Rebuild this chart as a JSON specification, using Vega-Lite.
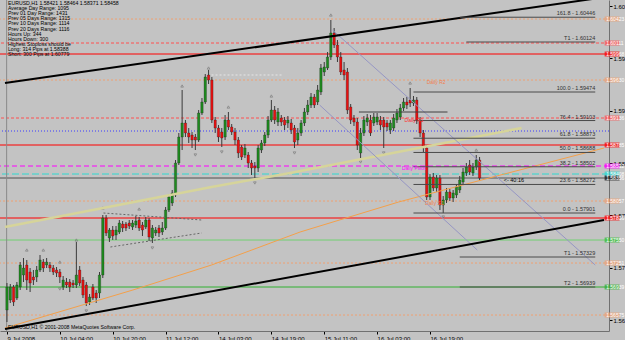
{
  "$schema": "https://vega.github.io/schema/vega-lite/v6.json",
  "width": 609,
  "height": 331,
  "autosize": "none",
  "padding": {"left": 0, "top": 0, "right": 16, "bottom": 9},
  "background": "#c3c3c3",
  "config": {
    "view": {"stroke": null, "fill": "#c3c3c3"},
    "font": "Liberation Sans",
    "axis": {"grid": false, "title": null, "labelFont": "Liberation Sans"}
  },
  "resolve": {"scale": {"color": "independent", "strokeDash": "independent", "strokeWidth": "independent", "shape": "independent"}},
  "datasets": {
    "candles": [
      {"i":0,"o":1.5664,"h":1.56991,"l":1.56484,"c":1.56939},
      {"i":1,"o":1.5677,"h":1.56978,"l":1.56731,"c":1.56939},
      {"i":2,"o":1.56939,"h":1.56965,"l":1.56692,"c":1.56744},
      {"i":3,"o":1.56796,"h":1.57004,"l":1.5677,"c":1.56965},
      {"i":4,"o":1.56939,"h":1.57264,"l":1.569,"c":1.57225},
      {"i":5,"o":1.57095,"h":1.57316,"l":1.57004,"c":1.57186},
      {"i":6,"o":1.57225,"h":1.5729,"l":1.569,"c":1.5703},
      {"i":7,"o":1.57134,"h":1.57186,"l":1.56874,"c":1.56991},
      {"i":8,"o":1.57069,"h":1.5716,"l":1.56965,"c":1.5703},
      {"i":9,"o":1.57069,"h":1.57212,"l":1.57004,"c":1.5716},
      {"i":10,"o":1.5716,"h":1.57355,"l":1.57134,"c":1.5729},
      {"i":11,"o":1.57264,"h":1.57303,"l":1.57134,"c":1.57186},
      {"i":12,"o":1.57225,"h":1.57316,"l":1.57186,"c":1.57264},
      {"i":13,"o":1.57225,"h":1.57264,"l":1.57134,"c":1.57186},
      {"i":14,"o":1.57186,"h":1.57225,"l":1.57095,"c":1.57134},
      {"i":15,"o":1.5716,"h":1.57199,"l":1.57069,"c":1.57121},
      {"i":16,"o":1.57134,"h":1.57173,"l":1.56991,"c":1.57069},
      {"i":17,"o":1.56939,"h":1.57082,"l":1.569,"c":1.5703},
      {"i":18,"o":1.57004,"h":1.57056,"l":1.56926,"c":1.56965},
      {"i":19,"o":1.57004,"h":1.57043,"l":1.56874,"c":1.56939},
      {"i":20,"o":1.56991,"h":1.5703,"l":1.56926,"c":1.56965},
      {"i":21,"o":1.56965,"h":1.57524,"l":1.56926,"c":1.57095},
      {"i":22,"o":1.5716,"h":1.57212,"l":1.56952,"c":1.56991},
      {"i":23,"o":1.5703,"h":1.57069,"l":1.56796,"c":1.56835},
      {"i":24,"o":1.56965,"h":1.57004,"l":1.56692,"c":1.56731},
      {"i":25,"o":1.56744,"h":1.56848,"l":1.56705,"c":1.56809},
      {"i":26,"o":1.56939,"h":1.56978,"l":1.5677,"c":1.56796},
      {"i":27,"o":1.56861,"h":1.569,"l":1.56731,"c":1.56796},
      {"i":28,"o":1.56861,"h":1.57134,"l":1.56796,"c":1.57095},
      {"i":29,"o":1.57095,"h":1.57875,"l":1.57056,"c":1.57836},
      {"i":30,"o":1.57836,"h":1.57875,"l":1.57602,"c":1.57641},
      {"i":31,"o":1.57576,"h":1.57706,"l":1.57524,"c":1.5768},
      {"i":32,"o":1.5768,"h":1.57732,"l":1.5755,"c":1.57602},
      {"i":33,"o":1.57615,"h":1.57732,"l":1.5755,"c":1.5768},
      {"i":34,"o":1.57654,"h":1.5781,"l":1.57628,"c":1.57771},
      {"i":35,"o":1.57758,"h":1.57797,"l":1.57654,"c":1.57706},
      {"i":36,"o":1.57758,"h":1.57784,"l":1.57667,"c":1.57706},
      {"i":37,"o":1.57771,"h":1.5781,"l":1.57693,"c":1.57732},
      {"i":38,"o":1.57719,"h":1.5781,"l":1.5768,"c":1.57771},
      {"i":39,"o":1.57745,"h":1.57862,"l":1.57706,"c":1.57797},
      {"i":40,"o":1.5781,"h":1.57849,"l":1.57667,"c":1.57706},
      {"i":41,"o":1.57745,"h":1.57784,"l":1.57602,"c":1.5768},
      {"i":42,"o":1.57719,"h":1.57849,"l":1.57693,"c":1.5781},
      {"i":43,"o":1.5781,"h":1.57836,"l":1.57537,"c":1.57589},
      {"i":44,"o":1.57576,"h":1.57745,"l":1.57511,"c":1.57706},
      {"i":45,"o":1.57641,"h":1.57719,"l":1.57602,"c":1.5768},
      {"i":46,"o":1.57706,"h":1.57745,"l":1.57589,"c":1.57641},
      {"i":47,"o":1.57654,"h":1.57784,"l":1.57615,"c":1.57706},
      {"i":48,"o":1.57706,"h":1.57979,"l":1.5768,"c":1.5794},
      {"i":49,"o":1.5794,"h":1.58148,"l":1.57914,"c":1.58109},
      {"i":50,"o":1.58031,"h":1.582,"l":1.57992,"c":1.58161},
      {"i":51,"o":1.58135,"h":1.5859,"l":1.58109,"c":1.58551},
      {"i":52,"o":1.58551,"h":1.58941,"l":1.58525,"c":1.58889},
      {"i":53,"o":1.58889,"h":1.595,"l":1.5872,"c":1.59071},
      {"i":54,"o":1.59071,"h":1.5911,"l":1.58889,"c":1.58941},
      {"i":55,"o":1.58941,"h":1.59006,"l":1.58811,"c":1.58889},
      {"i":56,"o":1.58915,"h":1.58954,"l":1.58746,"c":1.5885},
      {"i":57,"o":1.58889,"h":1.58928,"l":1.5872,"c":1.5885},
      {"i":58,"o":1.5885,"h":1.5924,"l":1.58824,"c":1.59201},
      {"i":59,"o":1.59201,"h":1.59396,"l":1.59175,"c":1.59344},
      {"i":60,"o":1.59344,"h":1.59708,"l":1.59318,"c":1.59669},
      {"i":61,"o":1.59695,"h":1.5976,"l":1.59578,"c":1.5963},
      {"i":62,"o":1.5963,"h":1.59669,"l":1.59071,"c":1.5911},
      {"i":63,"o":1.5911,"h":1.59149,"l":1.58941,"c":1.59006},
      {"i":64,"o":1.59006,"h":1.59045,"l":1.58824,"c":1.58889},
      {"i":65,"o":1.58954,"h":1.59006,"l":1.58759,"c":1.58876},
      {"i":66,"o":1.58889,"h":1.59175,"l":1.5885,"c":1.5911},
      {"i":67,"o":1.5911,"h":1.59214,"l":1.5898,"c":1.59019},
      {"i":68,"o":1.59019,"h":1.59058,"l":1.58915,"c":1.58954},
      {"i":69,"o":1.58954,"h":1.59006,"l":1.58785,"c":1.5885},
      {"i":70,"o":1.5885,"h":1.58889,"l":1.58616,"c":1.58681},
      {"i":71,"o":1.58759,"h":1.58785,"l":1.5859,"c":1.58629},
      {"i":72,"o":1.58655,"h":1.58798,"l":1.58616,"c":1.58746},
      {"i":73,"o":1.58655,"h":1.58694,"l":1.58486,"c":1.58551},
      {"i":74,"o":1.58551,"h":1.5859,"l":1.58395,"c":1.58486},
      {"i":75,"o":1.58512,"h":1.58564,"l":1.58356,"c":1.58486},
      {"i":76,"o":1.58486,"h":1.58785,"l":1.58434,"c":1.58746},
      {"i":77,"o":1.5872,"h":1.5885,"l":1.58681,"c":1.58811},
      {"i":78,"o":1.58811,"h":1.58954,"l":1.58772,"c":1.58915},
      {"i":79,"o":1.58915,"h":1.59162,"l":1.58876,"c":1.5911},
      {"i":80,"o":1.5911,"h":1.5937,"l":1.59084,"c":1.5924},
      {"i":81,"o":1.5924,"h":1.59292,"l":1.59058,"c":1.5911},
      {"i":82,"o":1.59084,"h":1.59266,"l":1.59032,"c":1.59214},
      {"i":83,"o":1.59136,"h":1.59175,"l":1.59032,"c":1.59084},
      {"i":84,"o":1.5911,"h":1.59149,"l":1.5898,"c":1.59045},
      {"i":85,"o":1.59071,"h":1.59162,"l":1.59006,"c":1.5911},
      {"i":86,"o":1.59071,"h":1.59123,"l":1.58928,"c":1.5898},
      {"i":87,"o":1.59006,"h":1.59045,"l":1.58746,"c":1.58824},
      {"i":88,"o":1.5885,"h":1.59006,"l":1.58785,"c":1.58941},
      {"i":89,"o":1.58941,"h":1.5911,"l":1.58902,"c":1.59071},
      {"i":90,"o":1.59071,"h":1.59266,"l":1.59032,"c":1.59214},
      {"i":91,"o":1.59214,"h":1.5937,"l":1.59175,"c":1.59305},
      {"i":92,"o":1.59305,"h":1.59461,"l":1.59266,"c":1.59409},
      {"i":93,"o":1.59409,"h":1.59448,"l":1.59266,"c":1.59305},
      {"i":94,"o":1.59344,"h":1.59565,"l":1.59305,"c":1.595},
      {"i":95,"o":1.59474,"h":1.59838,"l":1.59435,"c":1.59786},
      {"i":96,"o":1.59734,"h":1.59864,"l":1.59682,"c":1.59799},
      {"i":97,"o":1.59786,"h":1.59994,"l":1.5976,"c":1.59929},
      {"i":98,"o":1.59929,"h":1.6041,"l":1.5989,"c":1.60241},
      {"i":99,"o":1.60241,"h":1.60306,"l":1.60046,"c":1.60085},
      {"i":100,"o":1.60085,"h":1.6015,"l":1.59864,"c":1.59929},
      {"i":101,"o":1.59929,"h":1.59994,"l":1.59695,"c":1.59734},
      {"i":102,"o":1.5976,"h":1.59864,"l":1.5963,"c":1.59695},
      {"i":103,"o":1.59734,"h":1.59786,"l":1.59188,"c":1.5924},
      {"i":104,"o":1.59279,"h":1.59318,"l":1.59058,"c":1.5911},
      {"i":105,"o":1.59136,"h":1.59175,"l":1.59032,"c":1.59084},
      {"i":106,"o":1.59084,"h":1.59136,"l":1.5872,"c":1.58785},
      {"i":107,"o":1.58681,"h":1.59006,"l":1.58616,"c":1.58941},
      {"i":108,"o":1.58941,"h":1.59162,"l":1.58902,"c":1.5911},
      {"i":109,"o":1.59084,"h":1.59188,"l":1.59032,"c":1.59136},
      {"i":110,"o":1.5911,"h":1.59175,"l":1.58902,"c":1.58941},
      {"i":111,"o":1.59071,"h":1.59201,"l":1.59032,"c":1.59149},
      {"i":112,"o":1.59084,"h":1.59201,"l":1.59045,"c":1.59149},
      {"i":113,"o":1.5911,"h":1.59162,"l":1.5898,"c":1.59045},
      {"i":114,"o":1.5911,"h":1.59149,"l":1.58746,"c":1.59019},
      {"i":115,"o":1.59071,"h":1.5911,"l":1.58967,"c":1.59019},
      {"i":116,"o":1.5898,"h":1.5911,"l":1.58928,"c":1.59071},
      {"i":117,"o":1.59006,"h":1.59188,"l":1.58967,"c":1.59136},
      {"i":118,"o":1.5911,"h":1.59253,"l":1.59071,"c":1.59201},
      {"i":119,"o":1.59149,"h":1.59318,"l":1.5911,"c":1.59266},
      {"i":120,"o":1.59266,"h":1.59396,"l":1.59227,"c":1.59344},
      {"i":121,"o":1.59344,"h":1.59409,"l":1.59253,"c":1.59305},
      {"i":122,"o":1.5937,"h":1.59526,"l":1.59279,"c":1.59331},
      {"i":123,"o":1.59331,"h":1.59422,"l":1.59292,"c":1.5937},
      {"i":124,"o":1.5937,"h":1.59409,"l":1.59058,"c":1.5911},
      {"i":125,"o":1.5911,"h":1.59149,"l":1.58889,"c":1.58941},
      {"i":126,"o":1.58941,"h":1.5898,"l":1.58694,"c":1.58746},
      {"i":127,"o":1.58746,"h":1.58785,"l":1.5807,"c":1.58109},
      {"i":128,"o":1.58109,"h":1.58408,"l":1.5807,"c":1.58369},
      {"i":129,"o":1.58369,"h":1.58421,"l":1.58187,"c":1.58226},
      {"i":130,"o":1.58226,"h":1.58395,"l":1.58174,"c":1.58356},
      {"i":131,"o":1.58356,"h":1.58395,"l":1.5794,"c":1.58005},
      {"i":132,"o":1.58005,"h":1.58122,"l":1.57901,"c":1.5807},
      {"i":133,"o":1.5807,"h":1.58226,"l":1.58031,"c":1.58174},
      {"i":134,"o":1.58174,"h":1.58213,"l":1.58057,"c":1.58096},
      {"i":135,"o":1.58096,"h":1.582,"l":1.58044,"c":1.58161},
      {"i":136,"o":1.58135,"h":1.58278,"l":1.58096,"c":1.58239},
      {"i":137,"o":1.582,"h":1.58382,"l":1.58161,"c":1.5833},
      {"i":138,"o":1.58304,"h":1.58486,"l":1.58265,"c":1.58434},
      {"i":139,"o":1.58421,"h":1.58551,"l":1.58382,"c":1.58499},
      {"i":140,"o":1.58525,"h":1.5859,"l":1.58395,"c":1.58434},
      {"i":141,"o":1.58421,"h":1.58551,"l":1.58382,"c":1.58499},
      {"i":142,"o":1.58499,"h":1.58655,"l":1.5846,"c":1.5859},
      {"i":143,"o":1.5859,"h":1.58629,"l":1.5833,"c":1.58356}
    ],
    "hlines": [
      {"name":"Weekly R2","p":1.60423},
      {"name":"Weekly R1","p":1.60111},
      {"name":"Red 1","p":1.59968},
      {"name":"Daily R2","p":1.5963},
      {"name":"Daily R1","p":1.59136},
      {"name":"Blue","p":1.58967},
      {"name":"Red 2","p":1.58785},
      {"name":"Daily Pivot","p":1.58512},
      {"name":"Weekly Pivot","p":1.58408},
      {"name":"Bid","p":1.58356},
      {"name":"Daily S1","p":1.58057},
      {"name":"Red 3","p":1.57836},
      {"name":"Weekly S1","p":1.5755},
      {"name":"Daily S2","p":1.57251},
      {"name":"Weekly S2","p":1.56939},
      {"name":"Daily S3","p":1.56575}
    ],
    "fib": [
      {"lvl":"161.8 - 1.60446","p":1.60446,"s":137},
      {"lvl":"T1 - 1.60124","p":1.60124,"s":139},
      {"lvl":"100.0 - 1.59474","p":1.59474,"s":123},
      {"lvl":"76.4 - 1.59103","p":1.59103,"s":123},
      {"lvl":"61.8 - 1.58873","p":1.58873,"s":123},
      {"lvl":"50.0 - 1.58688","p":1.58688,"s":123},
      {"lvl":"38.2 - 1.58502","p":1.58502,"s":123},
      {"lvl":"23.6 - 1.58272","p":1.58272,"s":123},
      {"lvl":"0.0 - 1.57901","p":1.57901,"s":123},
      {"lvl":"T1 - 1.57329","p":1.57329,"s":137},
      {"lvl":"T2 - 1.56939","p":1.56939,"s":137}
    ],
    "trends": [
      {"name":"upper","b":-0.6,"p":1.59591},
      {"name":"upper","b":180.65,"p":1.60705},
      {"name":"lower","b":-0.6,"p":1.56393},
      {"name":"lower","b":180.65,"p":1.5781},
      {"name":"ma","b":-0.6,"p":1.57719},
      {"name":"ma","b":61.9,"p":1.58239},
      {"name":"ma","b":85.7,"p":1.58421},
      {"name":"ma","b":121.4,"p":1.5872},
      {"name":"ma","b":155.7,"p":1.59006},
      {"name":"orange","b":-0.6,"p":1.56406},
      {"name":"orange","b":38.1,"p":1.569},
      {"name":"orange","b":61.9,"p":1.57225},
      {"name":"orange","b":88.7,"p":1.57654},
      {"name":"orange","b":118.5,"p":1.58044},
      {"name":"orange","b":148.2,"p":1.58382},
      {"name":"orange","b":180.65,"p":1.58746},
      {"name":"chan1","b":98.5,"p":1.6028},
      {"name":"chan1","b":178,"p":1.57225},
      {"name":"chan2","b":94.6,"p":1.59305},
      {"name":"chan2","b":142.3,"p":1.5742},
      {"name":"wedge1","b":29.2,"p":1.57901},
      {"name":"wedge1","b":58.9,"p":1.5781},
      {"name":"wedge2","b":31.3,"p":1.57459},
      {"name":"wedge2","b":58.9,"p":1.57641},
      {"name":"seg1","b":61.9,"p":1.59695},
      {"name":"seg1","b":83.6,"p":1.59695},
      {"name":"seg2","b":106.5,"p":1.59214},
      {"name":"seg2","b":133.3,"p":1.59214}
    ],
    "fractals": [
      {"b":6,"p":1.5742,"t":"up"},
      {"b":11,"p":1.5742,"t":"up"},
      {"b":16,"p":1.57264,"t":"up"},
      {"b":21,"p":1.5755,"t":"up"},
      {"b":29,"p":1.57966,"t":"up"},
      {"b":40,"p":1.57953,"t":"up"},
      {"b":53,"p":1.59552,"t":"up"},
      {"b":61,"p":1.59786,"t":"up"},
      {"b":67,"p":1.59279,"t":"up"},
      {"b":80,"p":1.59422,"t":"up"},
      {"b":98,"p":1.60475,"t":"up"},
      {"b":122,"p":1.59591,"t":"up"},
      {"b":142,"p":1.5872,"t":"up"},
      {"b":16,"p":1.56913,"t":"down"},
      {"b":24,"p":1.56627,"t":"down"},
      {"b":44,"p":1.57446,"t":"down"},
      {"b":57,"p":1.58655,"t":"down"},
      {"b":65,"p":1.58694,"t":"down"},
      {"b":75,"p":1.58291,"t":"down"},
      {"b":87,"p":1.58681,"t":"down"},
      {"b":107,"p":1.58564,"t":"down"},
      {"b":114,"p":1.58681,"t":"down"},
      {"b":132,"p":1.57849,"t":"down"}
    ],
    "tags": [
      {"name":"Weekly R2","p":1.60423},
      {"name":"Weekly R1","p":1.60111},
      {"name":"Red 1","p":1.59968},
      {"name":"Daily R2","p":1.5963},
      {"name":"Daily R1","p":1.59136},
      {"name":"Red 2","p":1.58785},
      {"name":"Daily Pivot","p":1.58512},
      {"name":"Weekly Pivot","p":1.58408},
      {"name":"Bid","p":1.58356},
      {"name":"Daily S1","p":1.58057},
      {"name":"Red 3","p":1.57836},
      {"name":"Weekly S1","p":1.5755},
      {"name":"Daily S2","p":1.57251},
      {"name":"Weekly S2","p":1.56939},
      {"name":"Daily S3","p":1.56575}
    ],
    "one": [{}]
  },
  "layer": [
    {
      "data": {"name": "hlines"},
      "mark": {"type": "rule"},
      "encoding": {
        "y": {"field": "p", "type": "quantitative", "scale": {"domain": [1.56367, 1.6067], "nice": false, "zero": false},
          "axis": {"orient": "right", "values": [1.6059,1.6042,1.6025,1.6008,1.5991,1.5974,1.5957,1.594,1.5923,1.5906,1.5889,1.5872,1.5855,1.5838,1.5821,1.5804,1.5787,1.577,1.5753,1.5736,1.5719,1.5702,1.5685,1.5668,1.5651],
            "format": ".5f", "labelFontSize": 6, "labelColor": "#000000", "labelAlign": "left", "labelPadding": 1, "tickSize": 3, "tickColor": "#000000", "domainColor": "#707070", "labelOverlap": false, "labelBound": false}},
        "color": {"field": "name", "type": "nominal", "legend": null,
          "scale": {"domain": ["Weekly R2","Weekly R1","Red 1","Daily R2","Daily R1","Blue","Red 2","Daily Pivot","Weekly Pivot","Bid","Daily S1","Red 3","Weekly S1","Daily S2","Weekly S2","Daily S3"],
            "range": ["#f0a070","#ff5050","#ff0000","#f0a070","#ff5050","#3c3cff","#ff0000","#ff00ff","#30d8d0","#505050","#f0a070","#ff0000","#70d070","#f0a070","#30b030","#f0a070"]}},
        "strokeDash": {"field": "name", "type": "nominal", "legend": null,
          "scale": {"domain": ["Weekly R2","Weekly R1","Red 1","Daily R2","Daily R1","Blue","Red 2","Daily Pivot","Weekly Pivot","Bid","Daily S1","Red 3","Weekly S1","Daily S2","Weekly S2","Daily S3"],
            "range": [[2,2],[3,2],[1,0],[2,2],[3,2],[1,2],[1,0],[5,3],[7,3],[1,0],[2,2],[1,0],[1,0],[2,2],[1,0],[2,2]]}}
      }
    },
    {
      "data": {"name": "one"},
      "mark": {"type": "rule", "color": "#8a8a8a", "strokeWidth": 1},
      "encoding": {"x": {"datum": -0.1}}
    },
    {
      "data": {"name": "candles"},
      "mark": {"type": "rule", "color": "#3a3a3a", "strokeWidth": 1},
      "encoding": {
        "x": {"field": "i", "type": "quantitative", "scale": {"domain": [-0.595, 180.65], "nice": false, "zero": false},
          "axis": {"orient": "bottom", "values": [0,8,16,24,32,40,48,56,64,72,80,88,96,104,112,120,128,136],
            "labelExpr": "['9 Jul 2008','9 Jul 20:00','10 Jul 04:00','10 Jul 12:00','10 Jul 20:00','11 Jul 04:00','11 Jul 12:00','11 Jul 20:00','14 Jul 03:00','14 Jul 11:00','14 Jul 19:00','15 Jul 03:00','15 Jul 11:00','15 Jul 19:00','16 Jul 03:00','16 Jul 11:00','16 Jul 19:00','17 Jul 03:00'][round(datum.value/8)]",
            "labelFontSize": 6, "labelColor": "#000000", "labelAlign": "left", "labelPadding": 1, "labelFlush": false, "labelOverlap": false, "labelBound": false,
            "tickSize": 3, "tickColor": "#000000", "domainColor": "#707070"}},
        "y": {"field": "l", "type": "quantitative", "scale": {"domain": [1.56367, 1.6067], "nice": false, "zero": false}},
        "y2": {"field": "h"}
      }
    },
    {
      "data": {"name": "candles"},
      "mark": {"type": "bar", "size": 2.4, "stroke": "#202020", "strokeWidth": 0.3},
      "encoding": {
        "x": {"field": "i", "type": "quantitative"},
        "y": {"field": "o", "type": "quantitative"},
        "y2": {"field": "c"},
        "color": {"condition": {"test": "datum.c >= datum.o", "value": "#1e8c1e"}, "value": "#e81010"}
      }
    },
    {
      "data": {"name": "fractals"},
      "mark": {"type": "point", "size": 7, "filled": false, "strokeWidth": 0.8, "color": "#6c6c6c"},
      "encoding": {
        "x": {"field": "b", "type": "quantitative"},
        "y": {"field": "p", "type": "quantitative"},
        "shape": {"field": "t", "type": "nominal", "legend": null, "scale": {"domain": ["up", "down"], "range": ["triangle-up", "triangle-down"]}}
      }
    },
    {
      "data": {"name": "trends"},
      "transform": [{"filter": {"field": "name", "oneOf": ["ma"]}}],
      "mark": {"type": "line", "clip": true, "color": "#d6d49a", "strokeWidth": 2.5},
      "encoding": {
        "x": {"field": "b", "type": "quantitative"},
        "y": {"field": "p", "type": "quantitative"},
        "detail": {"field": "name"}
      }
    },
    {
      "data": {"name": "trends"},
      "transform": [{"filter": {"field": "name", "oneOf": ["orange"]}}],
      "mark": {"type": "line", "clip": true, "color": "#f4a04a", "strokeWidth": 1},
      "encoding": {
        "x": {"field": "b", "type": "quantitative"},
        "y": {"field": "p", "type": "quantitative"},
        "detail": {"field": "name"}
      }
    },
    {
      "data": {"name": "trends"},
      "transform": [{"filter": {"field": "name", "oneOf": ["chan1", "chan2"]}}],
      "mark": {"type": "line", "clip": true, "color": "#9696c4", "strokeWidth": 1},
      "encoding": {
        "x": {"field": "b", "type": "quantitative"},
        "y": {"field": "p", "type": "quantitative"},
        "detail": {"field": "name"}
      }
    },
    {
      "data": {"name": "trends"},
      "transform": [{"filter": {"field": "name", "oneOf": ["wedge1", "wedge2"]}}],
      "mark": {"type": "line", "clip": true, "color": "#666666", "strokeWidth": 1, "strokeDash": [2, 2]},
      "encoding": {
        "x": {"field": "b", "type": "quantitative"},
        "y": {"field": "p", "type": "quantitative"},
        "detail": {"field": "name"}
      }
    },
    {
      "data": {"name": "trends"},
      "transform": [{"filter": {"field": "name", "oneOf": ["seg1"]}}],
      "mark": {"type": "line", "clip": true, "color": "#e6e6e6", "strokeWidth": 1, "strokeDash": [2, 2]},
      "encoding": {
        "x": {"field": "b", "type": "quantitative"},
        "y": {"field": "p", "type": "quantitative"},
        "detail": {"field": "name"}
      }
    },
    {
      "data": {"name": "trends"},
      "transform": [{"filter": {"field": "name", "oneOf": ["seg2"]}}],
      "mark": {"type": "line", "clip": true, "color": "#404040", "strokeWidth": 1},
      "encoding": {
        "x": {"field": "b", "type": "quantitative"},
        "y": {"field": "p", "type": "quantitative"},
        "detail": {"field": "name"}
      }
    },
    {
      "data": {"name": "trends"},
      "transform": [{"filter": {"field": "name", "oneOf": ["upper", "lower"]}}],
      "mark": {"type": "line", "clip": true, "color": "#000000", "strokeWidth": 2},
      "encoding": {
        "x": {"field": "b", "type": "quantitative"},
        "y": {"field": "p", "type": "quantitative"},
        "detail": {"field": "name"}
      }
    },
    {
      "data": {"name": "fib"},
      "mark": {"type": "rule", "color": "#4a4a4a", "strokeWidth": 1},
      "encoding": {
        "x": {"field": "s", "type": "quantitative"},
        "x2": {"datum": 178},
        "y": {"field": "p", "type": "quantitative"}
      }
    },
    {
      "data": {"name": "fib"},
      "mark": {"type": "text", "align": "right", "baseline": "bottom", "dy": -1, "fontSize": 5.5, "color": "#303030"},
      "encoding": {
        "x": {"datum": 178},
        "y": {"field": "p", "type": "quantitative"},
        "text": {"field": "lvl"}
      }
    },
    {
      "data": {"name": "tags"},
      "mark": {"type": "tick", "orient": "horizontal", "size": 15, "thickness": 5, "clip": false},
      "encoding": {
        "x": {"datum": 183.1},
        "y": {"field": "p", "type": "quantitative"},
        "color": {"field": "name", "type": "nominal", "legend": null,
          "scale": {"domain": ["Weekly R2","Weekly R1","Red 1","Daily R2","Daily R1","Red 2","Daily Pivot","Weekly Pivot","Bid","Daily S1","Red 3","Weekly S1","Daily S2","Weekly S2","Daily S3"],
            "range": ["#f0a070","#ff5050","#ff0000","#f0a070","#ff5050","#ff0000","#ff00ff","#30d8d0","#101010","#f0a070","#ff0000","#30c030","#f0a070","#30b030","#f0a070"]}}
      }
    },
    {
      "data": {"name": "tags"},
      "mark": {"type": "text", "align": "left", "baseline": "middle", "fontSize": 5, "color": "#ffffff", "dx": 1},
      "encoding": {
        "x": {"datum": 181},
        "y": {"field": "p", "type": "quantitative"},
        "text": {"field": "p", "format": ".5f"}
      }
    },
    {
      "data": {"name": "one"},
      "mark": {"type": "text", "align": "left", "baseline": "top", "fontSize": 5.2, "lineHeight": 5.1, "color": "#000000"},
      "encoding": {
        "x": {"datum": 0.3},
        "y": {"datum": 1.60657},
        "text": {"value": ["EURUSD,H1  1.58421 1.58464 1.58371 1.58458", "Average Day  Range: 1095", "Prev 01 Day  Range: 1431", "Prev 05 Days Range: 1315", "Prev 10 Days Range: 1114", "Prev 20 Days Range: 1116", "Hours Up:     344", "Hours Down:  300", "Highest Stoploss should be", "Long:  314 Pips at 1.58388", "Short: 300 Pips at 1.60779"]}
      }
    },
    {
      "data": {"name": "one"},
      "mark": {"type": "text", "align": "left", "baseline": "middle", "fontSize": 5.2, "color": "#000000"},
      "encoding": {
        "x": {"datum": 0.3},
        "y": {"datum": 1.56419},
        "text": {"value": "EURUSD,H1  © 2001-2008 MetaQuotes Software Corp."}
      }
    },
    {
      "data": {"name": "one"},
      "mark": {"type": "text", "align": "left", "baseline": "middle", "fontSize": 5.5, "color": "#000000"},
      "encoding": {
        "x": {"datum": 150.3},
        "y": {"datum": 1.5833},
        "text": {"value": "<- 40:16"}
      }
    },
    {
      "data": {"name": "one"},
      "mark": {"type": "text", "align": "left", "baseline": "top", "fontSize": 5, "color": "#ff3030"},
      "encoding": {"x": {"datum": 120.3}, "y": {"datum": 1.59136}, "text": {"value": "Daily R1"}}
    },
    {
      "data": {"name": "one"},
      "mark": {"type": "text", "align": "left", "baseline": "top", "fontSize": 5, "color": "#ff00ff"},
      "encoding": {"x": {"datum": 119.5}, "y": {"datum": 1.58512}, "text": {"value": "Daily Pivot"}}
    },
    {
      "data": {"name": "one"},
      "mark": {"type": "text", "align": "left", "baseline": "top", "fontSize": 5, "color": "#f08050"},
      "encoding": {"x": {"datum": 127}, "y": {"datum": 1.5963}, "text": {"value": "Daily R2"}}
    },
    {
      "data": {"name": "one"},
      "mark": {"type": "text", "align": "left", "baseline": "top", "fontSize": 5, "color": "#f08050"},
      "encoding": {"x": {"datum": 126.5}, "y": {"datum": 1.58057}, "text": {"value": "Daily S1"}}
    }
  ]
}
